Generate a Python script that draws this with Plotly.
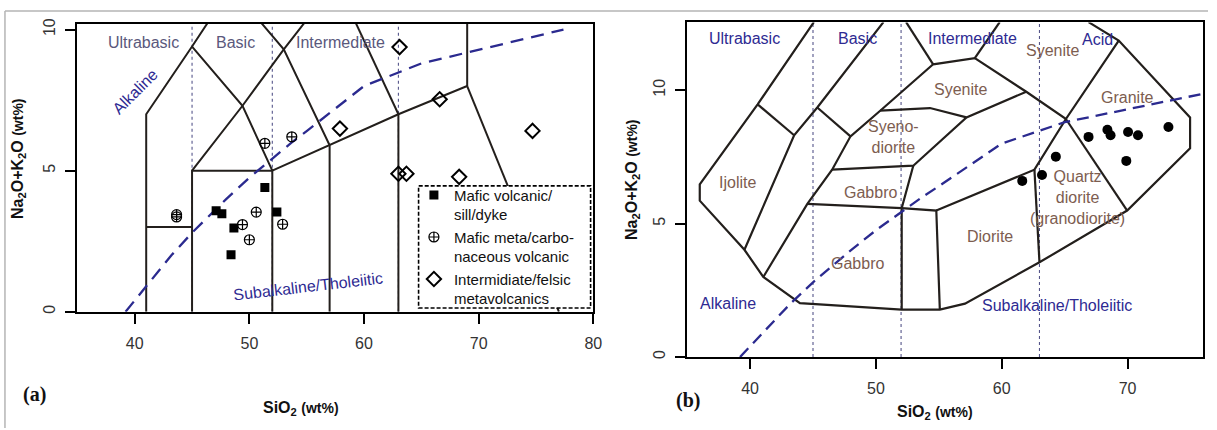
import plotly.graph_objects as go

W, H = 1217, 430

# ---------------- data ----------------
# panel (a): TAS, volcanic rocks
sq_x = [51.35, 47.1, 47.6, 52.4, 48.65, 48.4]
sq_y = [4.40, 3.58, 3.47, 3.53, 2.97, 2.02]
cp_x = [43.65, 43.65, 51.35, 53.7, 50.6, 49.4, 52.9, 50.0]
cp_y = [3.44, 3.36, 5.97, 6.20, 3.53, 3.09, 3.10, 2.55]
dm_x = [63.1, 66.6, 57.9, 74.7, 63.0, 63.7, 68.3]
dm_y = [9.38, 7.53, 6.49, 6.41, 4.89, 4.89, 4.78]
legend_names = ["Mafic volcanic/<br>sill/dyke",
                "Mafic meta/carbo-<br>naceous volcanic",
                "Intermidiate/felsic<br>metavolcanics"]

# panel (b): plutonic TAS, granitoids
gr_x = [66.9, 68.4, 68.65, 70.04, 70.83, 73.25, 69.9, 64.3, 63.2, 61.63]
gr_y = [8.25, 8.52, 8.31, 8.43, 8.31, 8.62, 7.35, 7.51, 6.82, 6.60]

# Irvine & Baragar alkaline/subalkaline divide
ib_x = [39.2, 40, 43.2, 45, 48, 50, 53.7, 55, 60, 65, 77.4]
ib_y = [0, 0.4, 2, 2.8, 4, 4.75, 6, 6.4, 8, 8.8, 10]

silica_div = [45, 52, 63]

# field boundaries panel (a)
fa_lines = [
    ([41, 41, 45, 48.4], [0, 7, 9.4, 11.5]),
    ([45, 49.4, 52], [9.4, 7.3, 5]),
    ([45, 49.4, 53, 57.6], [5, 7.3, 9.3, 11.7]),
    ([48.4, 53, 57], [11.5, 9.3, 5.9]),
    ([57.6, 63], [11.7, 7]),
    ([52, 57, 63, 69], [5, 5.9, 7, 8]),
    ([69, 69], [8, 12]),
    ([69, 77], [8, 0]),
    ([41, 45], [3, 3]),
    ([45, 45, 52, 52], [0, 5, 5, 0]),
    ([57, 57], [0, 5.9]),
    ([63, 63], [0, 7]),
]

# field boundaries panel (b)
fb_lines = [
    ([45.07, 40.6, 36.0, 36.0, 39.55, 41.05, 43.96, 52.05, 55.08, 57.08, 63.0, 69.97, 74.97, 74.97, 69.3, 66.9],
     [12.55, 9.47, 6.47, 5.86, 4.02, 3.0, 2.02, 1.78, 1.78, 2.0, 3.55, 5.49, 7.82, 8.98, 11.86, 12.55]),
    ([40.6, 43.5], [9.47, 8.31]),
    ([39.55, 43.5, 45.34, 50.6], [4.02, 8.31, 9.35, 12.55]),
    ([45.34, 47.98], [9.35, 8.27]),
    ([41.05, 44.55, 46.52, 47.98, 50.34, 54.55, 57.86, 61.95, 65.1, 69.3],
     [3.0, 5.74, 7.02, 8.27, 9.23, 10.97, 11.2, 9.94, 8.92, 11.86]),
    ([54.55, 52.4], [10.97, 12.55]),
    ([57.86, 59.84], [11.2, 12.55]),
    ([46.52, 52.97, 57.2, 61.95], [7.02, 7.17, 8.98, 9.94]),
    ([50.34, 54.3, 57.2], [9.23, 9.33, 8.98]),
    ([52.97, 52.05, 52.05], [7.17, 5.58, 1.78]),
    ([44.55, 52.05, 54.8, 55.08], [5.74, 5.58, 5.49, 1.78]),
    ([54.8, 62.6, 65.1], [5.49, 7.02, 8.92]),
    ([62.6, 63.0], [7.02, 3.55]),
    ([65.1, 69.97], [8.92, 5.49]),
]

# labels: (text, x, y, colour-key, angle)
labels_a = [
    ("Ultrabasic", 40.8, 9.56, "grey", 0),
    ("Basic", 48.82, 9.56, "grey", 0),
    ("Intermediate", 57.93, 9.56, "grey", 0),
    ("Alkaline", 40.03, 7.81, "blue", -45),
    ("Subalkaline/Tholeiitic", 55.1, 0.89, "blue", -6.6),
]
labels_b = [
    ("Ultrabasic", 39.55, 11.93, "blue", 0),
    ("Basic", 48.5, 11.93, "blue", 0),
    ("Intermediate", 57.7, 11.93, "blue", 0),
    ("Acid", 67.6, 11.9, "blue", 0),
    ("Syenite", 64.05, 11.5, "brown", 0),
    ("Syenite", 56.7, 10.03, "brown", 0),
    ("Granite", 69.96, 9.74, "brown", 0),
    ("Syeno-<br>diorite", 51.4, 8.25, "brown", 0),
    ("Ijolite", 39.0, 6.53, "brown", 0),
    ("Gabbro", 49.55, 6.17, "brown", 0),
    ("Gabbro", 48.55, 3.49, "brown", 0),
    ("Diorite", 59.05, 4.51, "brown", 0),
    ("Quartz<br>diorite<br>(granodiorite)", 66.0, 5.97, "brown", 0),
    ("Alkaline", 38.24, 2.0, "blue", 0),
    ("Subalkaline/Tholeiitic", 64.36, 1.94, "blue", 0),
]

COL = {"grey": "#5a587c", "blue": "#2e2a92", "brown": "#7d5d50"}
SANS = "Liberation Sans, Arial, sans-serif"
SERIF = "Liberation Serif, Times New Roman, serif"
LINE_C = "#231f1c"


def join(lines):
    xs, ys = [], []
    for lx, ly in lines:
        xs += list(lx) + [None]
        ys += list(ly) + [None]
    return xs, ys


def verticals(vals, top):
    xs, ys = [], []
    for v in vals:
        xs += [v, v, None]
        ys += [0, top, None]
    return xs, ys


fig = go.Figure()

# ---------- panel (a) ----------
vx, vy = verticals(silica_div, 10.2)
fig.add_trace(go.Scatter(x=vx, y=vy, mode="lines", xaxis="x", yaxis="y",
                         line=dict(color="#55558a", width=1.1, dash="dot"),
                         showlegend=False, hoverinfo="skip"))
lx, ly = join(fa_lines)
fig.add_trace(go.Scatter(x=lx, y=ly, mode="lines", xaxis="x", yaxis="y",
                         line=dict(color=LINE_C, width=2), showlegend=False,
                         hoverinfo="skip"))
fig.add_trace(go.Scatter(x=ib_x, y=ib_y, mode="lines", xaxis="x", yaxis="y",
                         line=dict(color="#2b2a8f", width=2.3, dash="13px,8px"),
                         showlegend=False, hoverinfo="skip"))
fig.add_trace(go.Scatter(x=sq_x, y=sq_y, mode="markers", xaxis="x", yaxis="y",
                         name=legend_names[0],
                         marker=dict(symbol="square", size=9, color="black")))
fig.add_trace(go.Scatter(x=cp_x, y=cp_y, mode="markers", xaxis="x", yaxis="y",
                         name=legend_names[1],
                         marker=dict(symbol="circle-cross-open", size=10, color="black",
                                     line=dict(width=1.2, color="black"))))
fig.add_trace(go.Scatter(x=dm_x, y=dm_y, mode="markers", xaxis="x", yaxis="y",
                         name=legend_names[2],
                         marker=dict(symbol="diamond-open", size=11, color="black",
                                     line=dict(width=2, color="black"))))

# ---------- panel (b) ----------
vx, vy = verticals(silica_div, 12.54)
fig.add_trace(go.Scatter(x=vx, y=vy, mode="lines", xaxis="x2", yaxis="y2",
                         line=dict(color="#55558a", width=1.1, dash="dot"),
                         showlegend=False, hoverinfo="skip"))
lx, ly = join(fb_lines)
fig.add_trace(go.Scatter(x=lx, y=ly, mode="lines", xaxis="x2", yaxis="y2",
                         line=dict(color=LINE_C, width=2.2), showlegend=False,
                         hoverinfo="skip"))
fig.add_trace(go.Scatter(x=ib_x, y=ib_y, mode="lines", xaxis="x2", yaxis="y2",
                         line=dict(color="#2b2a8f", width=2.3, dash="12px,7px"),
                         showlegend=False, hoverinfo="skip"))
fig.add_trace(go.Scatter(x=gr_x, y=gr_y, mode="markers", xaxis="x2", yaxis="y2",
                         marker=dict(symbol="circle", size=10, color="black"),
                         showlegend=False))

annotations = []
for t, x, y, c, a in labels_a:
    annotations.append(dict(text=t, x=x, y=y, xref="x", yref="y", showarrow=False,
                            textangle=a, font=dict(family=SANS, size=16, color=COL[c])))
for t, x, y, c, a in labels_b:
    annotations.append(dict(text=t, x=x, y=y, xref="x2", yref="y2", showarrow=False,
                            textangle=a, align="center",
                            font=dict(family=SANS, size=16, color=COL[c])))

ytitle = "<b>Na<sub>2</sub>O+K<sub>2</sub>O</b> <b><span style='font-size:14px'>(wt%)</span></b>"
xtitle = "<b>SiO<sub>2</sub></b> <b><span style='font-size:14px'>(wt%)</span></b>"


def pap(px, py):
    return px / W, 1 - py / H


for (px, py, txt, ang) in [(18, 155, ytitle, -90), (637, 177, ytitle, -90),
                           (303.5, 410, xtitle, 0), (941.7, 414, xtitle, 0)]:
    x, y = pap(px, py)
    annotations.append(dict(text=txt, x=x, y=y, xref="paper", yref="paper", showarrow=False,
                            textangle=ang, xanchor="center", yanchor="middle",
                            font=dict(family=SANS, size=16, color="#111")))
for (px, py, txt) in [(35, 395.5, "(a)"), (693.5, 401.5, "(b)")]:
    x, y = pap(px, py)
    annotations.append(dict(text="<b>" + txt + "</b>", x=x, y=y, xref="paper", yref="paper",
                            showarrow=False, xanchor="center", yanchor="middle",
                            font=dict(family=SERIF, size=20, color="#111")))

axis_common = dict(showline=True, linecolor="black", linewidth=2, mirror=True,
                   ticks="outside", ticklen=10, tickwidth=1.5, tickcolor="black",
                   showgrid=False, zeroline=False, fixedrange=True,
                   tickfont=dict(family=SANS, size=16, color="#333"))

shapes = [
    # legend frame (dashed)
    dict(type="rect", xref="paper", yref="paper",
         x0=421.7 / W, x1=595 / W, y0=1 - 307.7 / H, y1=1 - 183.3 / H,
         line=dict(color="black", width=1.6, dash="4px,2px"), fillcolor="white", layer="above"),
    # outer grey border of the figure page
    dict(type="line", xref="paper", yref="paper", x0=5 / W, x1=1, y0=1 - 5 / H, y1=1 - 5 / H,
         line=dict(color="#b5b5b5", width=1.5)),
    dict(type="line", xref="paper", yref="paper", x0=5 / W, x1=5 / W, y0=0, y1=1 - 5 / H,
         line=dict(color="#b5b5b5", width=1.5)),
]

fig.update_layout(
    width=W, height=H, autosize=False,
    margin=dict(l=0, r=0, t=0, b=0),
    paper_bgcolor="white", plot_bgcolor="white",
    xaxis=dict(domain=[78 / W, 597.7 / W], range=[35, 80], tickvals=[40, 50, 60, 70, 80],
               anchor="y", ticklabelstandoff=6, **axis_common),
    yaxis=dict(domain=[1 - 311.5 / H, 1 - 18.3 / H], range=[0, 10.2], tickvals=[0, 5, 10],
               anchor="x", tickangle=-90, ticklabelstandoff=4, **axis_common),
    xaxis2=dict(domain=[692.3 / W, 1212 / W], range=[35, 76], tickvals=[40, 50, 60, 70],
                anchor="y2", ticklabelstandoff=6, **axis_common),
    yaxis2=dict(domain=[1 - 357.7 / H, 1 - 16.7 / H], range=[0, 12.54], tickvals=[0, 5, 10],
                anchor="x2", tickangle=-90, ticklabelstandoff=4, **axis_common),
    legend=dict(x=417 / W, y=1 - 176 / H, xanchor="left", yanchor="top",
                bgcolor="rgba(0,0,0,0)", borderwidth=0, valign="top",
                tracegroupgap=0, itemwidth=30,
                font=dict(family=SANS, size=15, color="#111")),
    annotations=annotations,
    shapes=shapes,
    showlegend=True,
)

fig.write_html("out.html",
               config={"displayModeBar": False},
               post_script="document.body.style.margin='0';document.body.style.padding='0';")
